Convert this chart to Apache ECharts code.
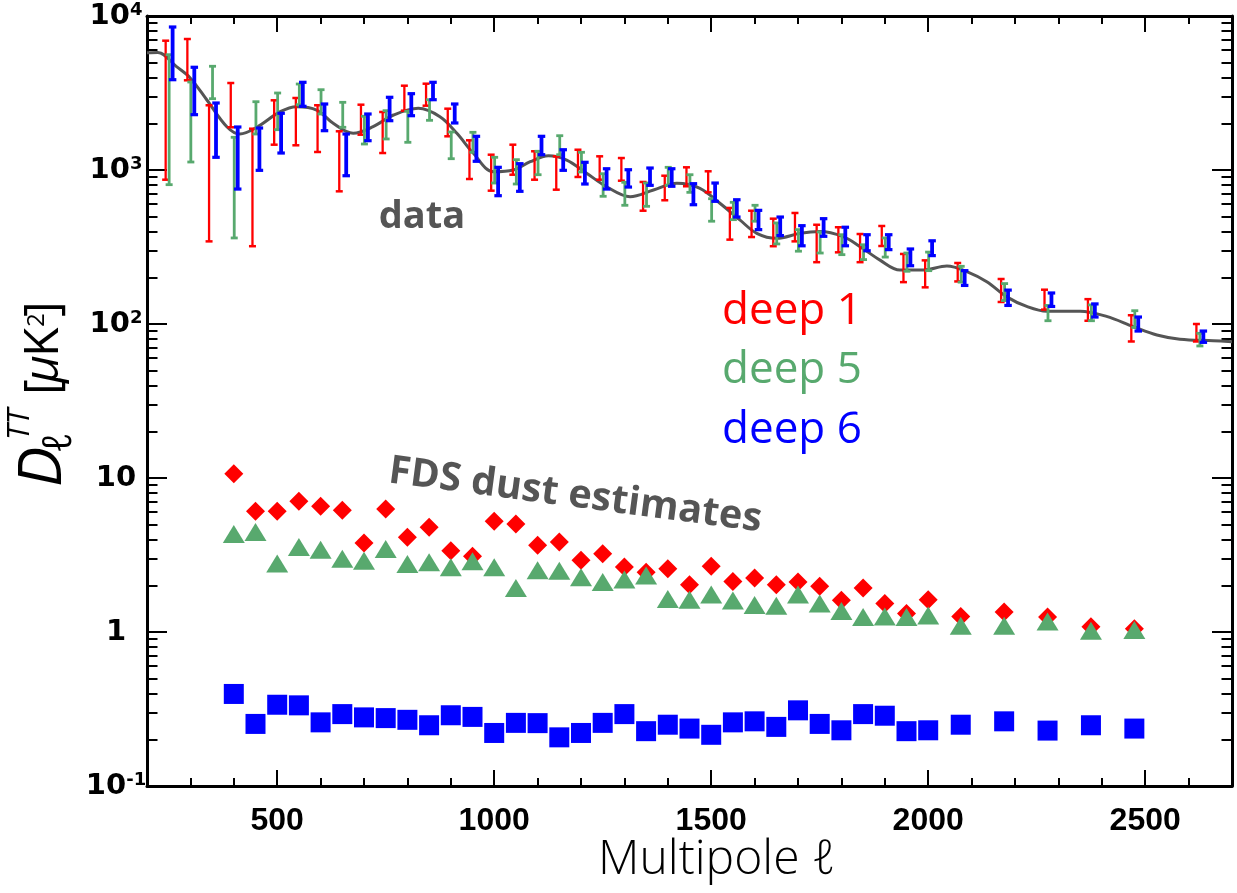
<!DOCTYPE html>
<html>
<head>
<meta charset="utf-8">
<script src="https://cdn.jsdelivr.net/npm/echarts@6.0.0/dist/echarts.min.js"></script>
<style>
  html, body { margin: 0; padding: 0; background: #ffffff; }
  #chart { width: 1237px; height: 893px; }
</style>
</head>
<body>
<div id="chart"></div>
<script>
// ---------------------------------------------------------------------------
// Data
// ---------------------------------------------------------------------------
// Field names (deep fields 1, 5, 6)
const fieldNames = ['deep 1', 'deep 5', 'deep 6'];

// Multipole bin centres of the TT band powers
const binEll = [250, 300, 350, 400, 450, 500, 550, 600, 650, 700, 750, 800, 850, 900,
  950, 1000, 1050, 1100, 1150, 1200, 1250, 1300, 1350, 1400, 1450, 1500, 1550, 1600,
  1650, 1700, 1750, 1800, 1850, 1900, 1950, 2000, 2075, 2175, 2275, 2375, 2475, 2625];

// Small multipole shift applied per field so the bars do not sit on top of each other
const fieldEllShift = [-7, 1, 9];

// Band-power error bars, D_l^TT [uK^2]: lower and upper ends
const deep1Low  = [865, 3824, 344, 1894, 320, 1460, 1447, 1309, 727, 1695, 1289, 2428, 2616, 1655,
  874, 734, 932, 865, 745, 901, 865, 852, 544, 636, 784, 716, 353, 367,
  320, 344, 252, 292, 252, 321, 187, 173, 189, 139, 124, 105, 77, 77];
const deep1High = [6912, 7089, 2632, 3672, 1854, 2835, 2935, 2632, 1784, 2655, 2381, 3527, 3634, 2501,
  1559, 1257, 1460, 1323, 1227, 1354, 1227, 1196, 836, 918, 1041, 981, 567, 544,
  483, 526, 441, 425, 384, 433, 285, 259, 249, 196, 167, 145, 114, 100];

const deep5Low  = [803, 1127, 2904, 362, 1713, 1827, 2655, 2310, 1894, 1475, 1590, 1513, 2102, 1184,
  1303, 823, 811, 932, 1257, 971, 675, 590, 581, 795, 716, 465, 476, 465,
  331, 297, 289, 282, 262, 272, 220, 222, 187, 142, 105, 105, 95, 72];
const deep5High = [5607, 3727, 4716, 1631, 2776, 3162, 3617, 3322, 2751, 2232, 2428, 2406, 2861, 1766,
  1757, 1209, 1167, 1323, 1670, 1303, 946, 832, 823, 1041, 932, 651, 617, 590,
  453, 410, 396, 380, 327, 362, 289, 293, 237, 183, 132, 133, 122, 87];

const deep6Low  = [3858, 2287, 1209, 752, 995, 1289, 2592, 1800, 918, 1550, 2090, 2252, 2861, 2020,
  1139, 681, 727, 1257, 995, 811, 752, 775, 795, 784, 595, 626, 495, 410,
  375, 322, 371, 322, 299, 304, 239, 278, 178, 132, 130, 111, 90, 76];
const deep6High = [8484, 4646, 2723, 1902, 1874, 2335, 3711, 2683, 1713, 2310, 2966, 3130, 3711, 2683,
  1655, 1041, 1099, 1655, 1354, 1122, 1019, 1004, 1030, 1019, 815, 823, 641, 547,
  495, 435, 483, 425, 380, 380, 307, 347, 222, 166, 159, 135, 111, 90];

// Best-fit model spectrum (sampled along the curve)
const modelEll = [200, 225, 268, 299, 338, 384, 414, 453, 507, 545, 591, 629, 675, 721, 768, 825,
  875, 914, 952, 998, 1044, 1083, 1125, 1167, 1213, 1259, 1313, 1367, 1421, 1474, 1520,
  1566, 1605, 1651, 1705, 1751, 1804, 1843, 1889, 1935, 1989, 2043, 2089, 2135, 2181,
  2227, 2273, 2350, 2411, 2473, 2527, 2580, 2657, 2700];
const modelDl = [5777, 5800, 4687, 3977, 2848, 1911, 1713, 1894, 2391, 2576, 2452, 2010, 1731, 1911,
  2276, 2515, 2219, 1731, 1283, 975, 1000, 1132, 1238, 1161, 952, 779, 671, 742, 819, 761,
  608, 474, 388, 360, 388, 398, 369, 318, 260, 224, 224, 238, 219, 188, 150, 130, 121, 121,
  112, 96, 84.8, 79.6, 77.9, 76.8];

// FDS dust estimates per field
const dustEll = [400, 450, 500, 550, 600, 650, 700, 750, 800, 850, 900, 950, 1000, 1050, 1100,
  1150, 1200, 1250, 1300, 1350, 1400, 1450, 1500, 1550, 1600, 1650, 1700, 1750, 1800, 1850,
  1900, 1950, 2000, 2075, 2175, 2275, 2375, 2475];
const dustDeep1 = [10.67, 6.08, 6.08, 7.06, 6.55, 6.17, 3.78, 6.29, 4.12, 4.78, 3.37, 3.10, 5.23, 5.03,
  3.66, 3.84, 2.92, 3.22, 2.64, 2.44, 2.57, 2.03, 2.67, 2.13, 2.24, 2.03, 2.11, 1.98, 1.61,
  1.93, 1.53, 1.32, 1.62, 1.26, 1.35, 1.25, 1.08, 1.05];
const dustDeep5 = [4.33, 4.46, 2.78, 3.56, 3.42, 2.99, 2.90, 3.46, 2.76, 2.84, 2.63, 2.88, 2.63, 1.93,
  2.52, 2.50, 2.27, 2.11, 2.19, 2.33, 1.64, 1.62, 1.75, 1.60, 1.50, 1.48, 1.75, 1.53, 1.37,
  1.25, 1.26, 1.25, 1.28, 1.10, 1.10, 1.17, 1.02, 1.03];
const dustDeep6 = [0.396, 0.253, 0.337, 0.334, 0.259, 0.293, 0.279, 0.276, 0.269, 0.248, 0.288, 0.281,
  0.221, 0.257, 0.256, 0.207, 0.221, 0.257, 0.293, 0.227, 0.250, 0.236, 0.215, 0.259, 0.263,
  0.242, 0.310, 0.253, 0.230, 0.293, 0.286, 0.227, 0.230, 0.250, 0.263, 0.229, 0.248, 0.236];

// Axis ticks and labels
const xMajorTicks = [500, 1000, 1500, 2000, 2500];
const xMinorTicks = [300, 400, 600, 700, 800, 900, 1100, 1200, 1300, 1400, 1600, 1700, 1800,
  1900, 2100, 2200, 2300, 2400, 2600];
const yDecades = [0.1, 1, 10, 100, 1000, 10000];
const yDecadeLabels = ['10{e|-1}', '1', '10', '10{e|2}', '10{e|3}', '10{e|4}'];
const yMinorTicks = [0.2, 0.3, 0.4, 0.5, 0.6, 0.7, 0.8, 0.9, 2, 3, 4, 5, 6, 7, 8, 9,
  20, 30, 40, 50, 60, 70, 80, 90, 200, 300, 400, 500, 600, 700, 800, 900,
  2000, 3000, 4000, 5000, 6000, 7000, 8000, 9000];

// ---------------------------------------------------------------------------
// Styling
// ---------------------------------------------------------------------------
const RED = '#ff0000', GREEN = '#58a96e', BLUE = '#0000ff', GREY = '#555555';
const fieldColors = [RED, GREEN, BLUE];
const barStyles = [
  { lineWidth: 2.3, capWidth: 7, capLine: 2.5 },
  { lineWidth: 2.8, capWidth: 7, capLine: 2.8 },
  { lineWidth: 3.8, capWidth: 7.5, capLine: 3.2 }
];
const AXIS_FONT = '"DejaVu Sans", sans-serif';
const TEXT_FONT = '"Open Sans", "Noto Sans", sans-serif';

// ---------------------------------------------------------------------------
// Series builders
// ---------------------------------------------------------------------------
function errorBarSeries(idx, low, high) {
  const color = fieldColors[idx];
  const st = barStyles[idx];
  return {
    type: 'custom',
    name: fieldNames[idx],
    xAxisIndex: 0,
    yAxisIndex: 0,
    z: 3 + idx,
    data: binEll.map((l, i) => [l + fieldEllShift[idx], low[i], high[i]]),
    encode: { x: 0, y: [1, 2] },
    renderItem: function (params, api) {
      const ell = api.value(0);
      const pLo = api.coord([ell, api.value(1)]);
      const pHi = api.coord([ell, api.value(2)]);
      const h = st.capWidth / 2;
      const x = pLo[0];
      return {
        type: 'group',
        children: [
          { type: 'line', shape: { x1: x, y1: pLo[1], x2: x, y2: pHi[1] },
            style: { stroke: color, lineWidth: st.lineWidth } },
          { type: 'line', shape: { x1: x - h, y1: pLo[1], x2: x + h, y2: pLo[1] },
            style: { stroke: color, lineWidth: st.capLine } },
          { type: 'line', shape: { x1: x - h, y1: pHi[1], x2: x + h, y2: pHi[1] },
            style: { stroke: color, lineWidth: st.capLine } }
        ]
      };
    }
  };
}

function dustSeries(idx, values, symbol, size) {
  return {
    type: 'scatter',
    name: fieldNames[idx] + ' dust',
    xAxisIndex: 0,
    yAxisIndex: 0,
    z: 10 + idx,
    symbol: symbol,
    symbolSize: size,
    itemStyle: { color: fieldColors[idx], opacity: 1 },
    data: dustEll.map((l, i) => [l, values[i]])
  };
}

// ---------------------------------------------------------------------------
// Axes
// ---------------------------------------------------------------------------
const axisLineStyle = { color: '#000', width: 3 };
const tickLineStyle = { color: '#000', width: 2 };

function xAxisDef(position, ticks, len, withLabels, withLine) {
  return {
    type: 'value', min: 200, max: 2700, position: position,
    axisLine: { show: withLine, onZero: false, lineStyle: axisLineStyle },
    axisTick: { show: true, inside: true, length: len, customValues: ticks, lineStyle: tickLineStyle },
    axisLabel: withLabels ? {
      show: true, customValues: ticks, margin: 19,
      formatter: v => String(Math.round(v)),
      fontFamily: '"Liberation Sans Narrow", "Liberation Sans", sans-serif',
      fontWeight: 'bold', fontSize: 32, color: '#000'
    } : { show: false },
    splitLine: { show: false }
  };
}

function logYAxisDef(position, withLabels) {
  return {
    type: 'log', logBase: 10, min: 0.1, max: 10000, position: position,
    axisLine: { show: true, onZero: false, lineStyle: axisLineStyle },
    axisTick: { show: true, inside: true, length: 20, lineStyle: tickLineStyle },
    axisLabel: withLabels ? {
      show: true, margin: 31, align: 'center',
      fontFamily: AXIS_FONT, fontWeight: 'bold', fontSize: 29, color: '#000',
      formatter: function (v) {
        const k = yDecades.findIndex(d => Math.abs(Math.log10(d) - Math.log10(v)) < 1e-6);
        return k >= 0 ? yDecadeLabels[k] : '';
      },
      rich: {
        e: { fontFamily: AXIS_FONT, fontWeight: 'bold', fontSize: 18, color: '#000', verticalAlign: 'top' }
      }
    } : { show: false },
    minorTick: { show: false },
    splitLine: { show: false }
  };
}

// Minor decade ticks: a linear axis over log10 of the same range
function minorYAxisDef(position) {
  return {
    type: 'value', min: -1, max: 4, position: position,
    axisLine: { show: false, onZero: false },
    axisTick: { show: true, inside: true, length: 10.5, customValues: yMinorTicks.map(v => Math.log10(v)),
      lineStyle: tickLineStyle },
    axisLabel: { show: false },
    splitLine: { show: false }
  };
}

// ---------------------------------------------------------------------------
// Y-axis title: D_l^TT [uK^2]
// ---------------------------------------------------------------------------
function yTitle() {
  const t = (text, x, y, size, style, weight) => ({
    type: 'text', x: x, y: y,
    style: { text: text, fontFamily: TEXT_FONT, fontSize: size, fontStyle: style || 'normal',
      fontWeight: weight || 'normal', fill: '#000', align: 'left', verticalAlign: 'middle' }
  });
  return {
    type: 'group', x: 68, y: 487, rotation: Math.PI / 2,
    children: [
      t('D', 0, -24, 60, 'italic'),
      t('\u2113', 34, -8, 40, 'italic'),
      t('TT', 47, -48, 31, 'italic'),
      t('[', 92, -24, 48),
      t('\u03bc', 104, -24, 48, 'italic'),
      t('K', 130, -24, 48),
      t('2', 160, -31, 24),
      t(']', 170, -24, 48)
    ]
  };
}

// ---------------------------------------------------------------------------
// Chart
// ---------------------------------------------------------------------------
const chart = echarts.init(document.getElementById('chart'), null, { renderer: 'canvas' });

chart.setOption({
  backgroundColor: '#ffffff',
  animation: false,
  grid: { left: 147, right: 5, top: 16, bottom: 107, containLabel: false, outerBoundsMode: 'none' },
  xAxis: [
    xAxisDef('bottom', xMajorTicks, 16, true, true),
    xAxisDef('bottom', xMinorTicks, 8, false, false),
    xAxisDef('top', xMajorTicks, 16, false, true),
    xAxisDef('top', xMinorTicks, 8, false, false)
  ],
  yAxis: [
    logYAxisDef('left', true),
    minorYAxisDef('left'),
    logYAxisDef('right', false),
    minorYAxisDef('right')
  ],
  series: [
    {
      type: 'line', name: 'model', xAxisIndex: 0, yAxisIndex: 0, z: 2,
      data: modelEll.map((l, i) => [l, modelDl[i]]),
      smooth: 0.35, showSymbol: false, symbol: 'none',
      lineStyle: { color: GREY, width: 3 }
    },
    errorBarSeries(0, deep1Low, deep1High),
    errorBarSeries(1, deep5Low, deep5High),
    errorBarSeries(2, deep6Low, deep6High),
    dustSeries(0, dustDeep1, 'diamond', [19, 19]),
    dustSeries(1, dustDeep5, 'triangle', [22, 18]),
    dustSeries(2, dustDeep6, 'rect', [20, 20])
  ],
  graphic: [
    { type: 'text', x: 422, y: 217, z: 20,
      style: { text: 'data', fontFamily: TEXT_FONT, fontWeight: 'bold', fontSize: 38, fill: GREY,
        align: 'center', verticalAlign: 'middle' } },
    { type: 'text', x: 389, y: 471, rotation: -0.131, z: 20,
      style: { text: 'FDS dust estimates', fontFamily: TEXT_FONT, fontWeight: 'bold', fontSize: 39.5, fill: GREY,
        align: 'left', verticalAlign: 'middle' } },
    { type: 'text', x: 722, y: 311, z: 20,
      style: { text: fieldNames[0], fontFamily: TEXT_FONT, fontSize: 44, fill: RED, align: 'left', verticalAlign: 'middle' } },
    { type: 'text', x: 722, y: 370, z: 20,
      style: { text: fieldNames[1], fontFamily: TEXT_FONT, fontSize: 44, fill: GREEN, align: 'left', verticalAlign: 'middle' } },
    { type: 'text', x: 722, y: 430, z: 20,
      style: { text: fieldNames[2], fontFamily: TEXT_FONT, fontSize: 44, fill: BLUE, align: 'left', verticalAlign: 'middle' } },
    { type: 'text', x: 717, y: 860, z: 20,
      style: { text: 'Multipole \u2113', fontFamily: TEXT_FONT, fontWeight: 300, fontSize: 48, fill: '#000',
        align: 'center', verticalAlign: 'middle' } },
    yTitle()
  ]
});
</script>
</body>
</html>
